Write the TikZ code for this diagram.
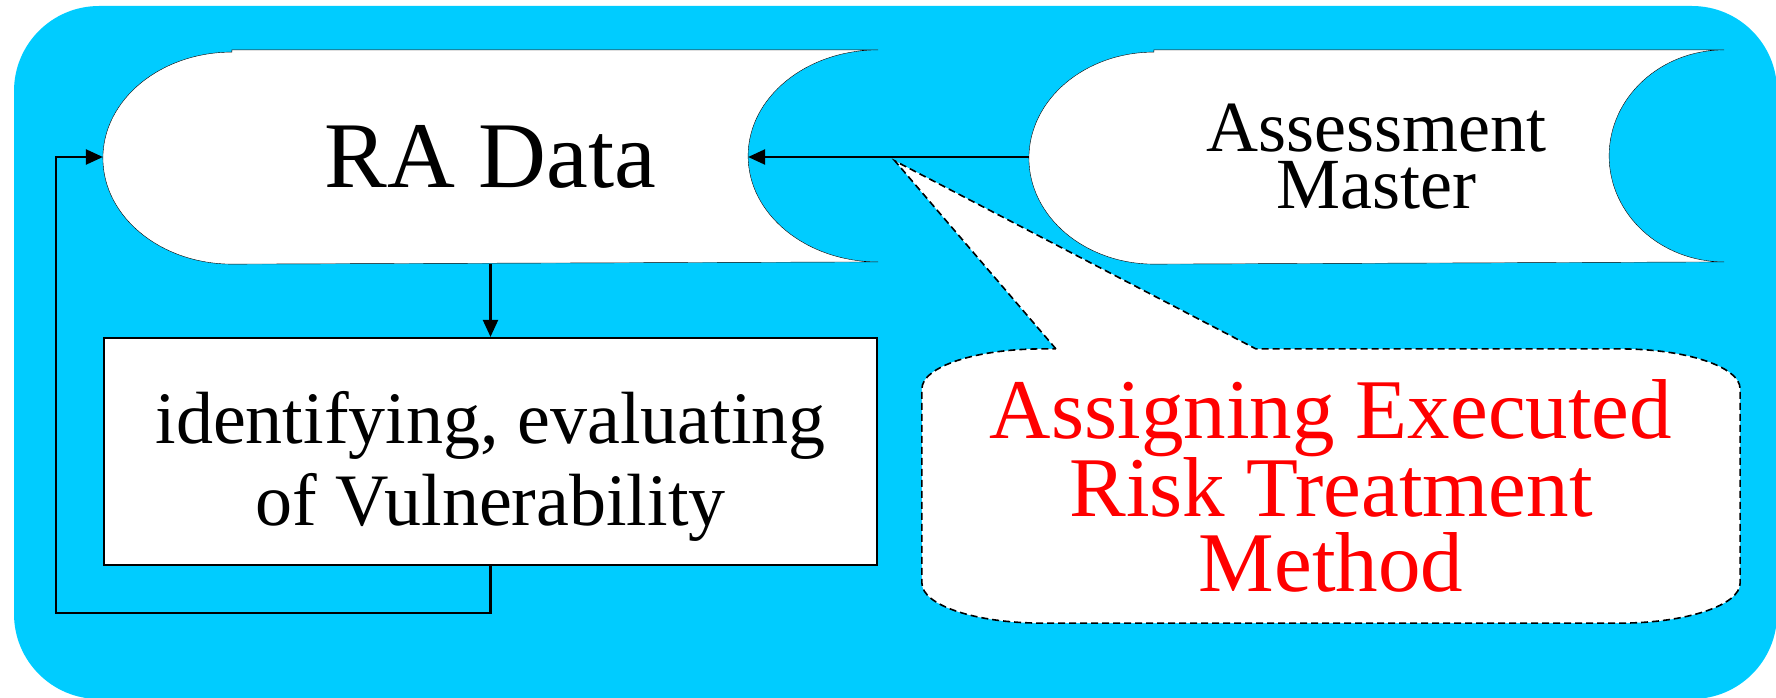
\documentclass[tikz,border=0pt]{standalone}
\usepackage{fontspec}
\setmainfont{Liberation Serif}
\usepackage{xcolor}
\usetikzlibrary{calc,arrows.meta,backgrounds}
\definecolor{skyblue}{HTML}{00CCFF}

\begin{document}
\begin{tikzpicture}[x=1pt, y=-1pt, line width=2.2pt,
    arr/.style={-{Triangle[length=17pt, width=15pt]}},
    datashape/.style={inner sep=0pt, minimum height=212pt, align=center}]
    \useasboundingbox (0,0) rectangle (1776,698);
    \begin{scope}[on background layer]
        \fill[skyblue, rounded corners=85pt] (14,6) rectangle (1777,699);
    \end{scope}

    \node[datashape, minimum width=773pt, font=\fontsize{94}{100}\selectfont] (RAData) at (490.5,157) {RA Data};
    \node[datashape, minimum width=693pt, font=\fontsize{72}{57}\selectfont] (Master) at (1376.5,157) {Assessment\\Master};
    \node[draw, fill=white, minimum width=773pt, minimum height=227pt] (Vuln) at (490.5,451.5) {};
    \node[align=center, font=\fontsize{74}{82}\selectfont] (VulnText) at (490.5,466) {identifying, evaluating\\of Vulnerability};
    \node[inner sep=0pt, minimum width=816pt, minimum height=272pt, align=center, text=red,
        font=\fontsize{85}{75}\selectfont] (Note) at (1331,486) {Assigning Executed\\Risk Treatment\\Method};
    \coordinate (NoteTip) at (895,161);
    \coordinate (LoopCorner) at (56,613);

    \begin{scope}[on background layer]
        \foreach \n/\l/\r in {RAData/129/130, Master/125/115}
            \draw[fill=white] ($(\n.north west)+(\l,0)$) -- (\n.north east)
                arc[start angle=270, end angle=90, x radius=\r, y radius=106]
                -- ($(\n.south west)+(\l,0)$)
                arc[start angle=90, end angle=270, x radius=\l, y radius=106] -- cycle;
        \draw[fill=white, line width=1.6pt, dash pattern=on 7pt off 4pt]
            ($(Note.north west)+(134,0)$) -- (NoteTip) -- ($(Note.north west)+(334,0)$)
            -- ($(Note.north east)+(-120,0)$) arc[start angle=270, end angle=360, x radius=120, y radius=40]
            -- ($(Note.south east)+(0,-40)$) arc[start angle=0, end angle=90, x radius=120, y radius=40]
            -- ($(Note.south west)+(120,0)$) arc[start angle=90, end angle=180, x radius=120, y radius=40]
            -- ($(Note.north west)+(0,40)$) arc[start angle=180, end angle=270, x radius=120, y radius=40]
            -- cycle;
    \end{scope}

    \draw[arr] (Master.west) -- ($(RAData.east)+(-130,0)$);
    \draw[arr] (RAData.south) -- (Vuln.north);
    \draw[arr] (Vuln.south) |- (LoopCorner) |- (RAData.west);
\end{tikzpicture}
\end{document}
